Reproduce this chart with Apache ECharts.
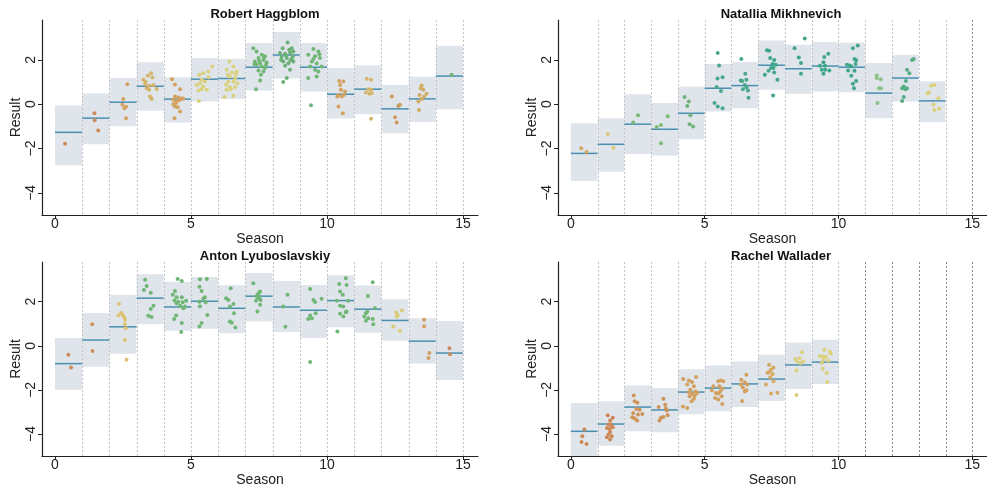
<!DOCTYPE html>
<html><head><meta charset="utf-8">
<script src="https://cdn.jsdelivr.net/npm/echarts@6/dist/echarts.min.js"></script>
<style>html,body{margin:0;padding:0;background:#fff}#c{width:987px;height:489px}</style>
</head><body><div id="c"></div>
<script>
// ---------------- DATA ----------------
const playerNames = ['Robert Haggblom', 'Natallia Mikhnevich', 'Anton Lyuboslavskiy', 'Rachel Wallader'];
const xTicks = [0, 5, 10, 15];
const yTicks = [-4, -2, 0, 2];
const seasonLines = [1, 2, 3, 4, 5, 6, 7, 8, 9, 10, 11, 12, 13, 14, 15];
const mikhnevichExtraLines = [15];
const walladerExtraLines = [11, 12, 13, 14, 15];

// Robert Haggblom (season index = array position)
const haggblomMean = [-1.27, -0.63, 0.09, 0.81, 0.23, 1.13, 1.16, 1.67, 2.22, 1.67, 0.45, 0.68, -0.21, 0.24, 1.27];
const haggblomLow  = [-2.75, -1.81, -1.0, -0.30, -0.83, 0.12, 0.23, 0.62, 1.16, 0.57, -0.65, -0.45, -1.31, -0.8, -0.23];
const haggblomHigh = [-0.06, 0.48, 1.18, 1.89, 1.22, 2.08, 2.05, 2.76, 3.26, 2.76, 1.63, 1.75, 0.87, 1.24, 2.64];
const haggblomResults = [
  [0.37,-1.78],
  [1.45,-0.41],[1.46,-0.72],[1.59,-1.19],
  [2.66,0.90],[2.51,0.23],[2.48,-0.03],[2.61,-0.11],[2.61,-0.63],[2.55,-0.18],
  [3.53,1.40],[3.41,1.28],[3.58,1.2],[3.25,1.1],[3.33,1.0],[3.47,0.83],[3.62,0.87],[3.74,0.69],[3.46,0.65],[3.49,0.35],[3.55,0.24],[3.31,0.9],[3.37,0.72],[3.52,0.3],
  [4.30,1.13],[4.41,0.89],[4.6,0.68],[4.41,0.35],[4.53,0.3],[4.66,0.27],[4.35,0.2],[4.47,0.12],[4.6,0.23],[4.35,0.0],[4.41,-0.1],[4.51,-0.14],[4.6,-0.33],[4.39,-0.63],[4.72,0.25],[4.45,0.05],[4.57,0.18],
  [5.78,1.7],[5.64,1.48],[5.45,1.4],[5.31,1.33],[5.39,1.1],[5.51,1.03],[5.33,0.95],[5.21,0.87],[5.45,0.8],[5.27,0.62],[5.58,0.65],[5.39,0.68],[5.64,1.22],[5.29,0.14],
  [6.41,1.93],[6.56,1.7],[6.31,1.55],[6.5,1.43],[6.68,1.48],[6.43,1.25],[6.62,1.18],[6.37,1.03],[6.56,1.03],[6.7,0.95],[6.29,0.88],[6.43,0.77],[6.62,0.77],[6.31,0.65],[6.46,0.68],[6.56,0.38],[6.23,0.32],[6.65,1.36],[6.35,1.33],
  [7.29,2.53],[7.41,2.38],[7.6,2.23],[7.72,2.16],[7.48,2.08],[7.66,2.0],[7.35,1.93],[7.54,1.85],[7.78,1.88],[7.41,1.78],[7.6,1.7],[7.72,1.63],[7.48,1.52],[7.66,1.48],[7.54,1.07],[7.39,0.68],[7.33,1.82],[7.76,1.78],[7.57,1.33],[7.51,1.95],[7.68,2.1],
  [8.55,2.79],[8.37,2.53],[8.7,2.53],[8.27,2.31],[8.46,2.28],[8.64,2.31],[8.76,2.38],[8.33,2.13],[8.52,2.08],[8.7,2.04],[8.39,1.93],[8.58,1.85],[8.76,1.93],[8.46,1.73],[8.64,1.55],[8.52,1.18],[8.39,1.0],[8.31,2.0],[8.74,2.16],[8.61,2.46],[8.49,2.2],[8.66,1.98],
  [9.5,2.49],[9.68,2.38],[9.31,2.23],[9.56,2.16],[9.74,2.08],[9.44,1.93],[9.62,1.85],[9.8,1.7],[9.38,1.7],[9.56,1.55],[9.68,1.48],[9.31,1.18],[9.62,1.25],[9.41,-0.05],[9.5,2.04],[9.72,2.26],
  [10.45,1.05],[10.6,1.02],[10.48,0.87],[10.51,0.65],[10.66,0.57],[10.42,0.42],[10.54,0.35],[10.62,0.42],[10.42,-0.1],[10.58,-0.41],[10.38,0.35],
  [11.46,1.15],[11.62,1.1],[11.52,0.68],[11.62,0.65],[11.43,0.53],[11.56,0.47],[11.64,0.5],[11.62,-0.66],
  [12.38,0.35],[12.68,-0.03],[12.62,-0.08],[12.5,-0.59],[12.56,-0.83],
  [13.48,0.84],[13.44,0.72],[13.54,0.65],[13.40,0.42],[13.48,0.24],[13.57,0.35],[13.66,0.47],[13.36,0.12],[13.38,-0.26],
  [14.58,1.33]
];

// Natallia Mikhnevich
const mikhnevichMean = [-2.22, -1.81, -0.9, -1.13, -0.41, 0.72, 0.84, 1.76, 1.6, 1.72, 1.67, 0.5, 1.18, 0.15];
const mikhnevichLow  = [-3.47, -3.05, -2.25, -2.32, -1.58, -0.33, -0.18, 0.65, 0.47, 0.57, 0.54, -0.63, 0.12, -0.81];
const mikhnevichHigh = [-0.86, -0.63, 0.45, 0.05, 0.8, 1.81, 1.9, 2.87, 2.68, 2.81, 2.78, 1.86, 2.23, 1.04];
const mikhnevichResults = [
  [0.39,-1.99],[0.59,-2.16],
  [1.38,-1.34],[1.59,-1.96],
  [2.51,-0.5],[2.33,-0.83],
  [3.62,-0.54],[3.37,-0.94],[3.21,-1.03],[3.37,-1.76],
  [4.25,0.32],[4.41,0.12],[4.35,-0.08],[4.47,-0.5],[4.44,-0.9],[4.57,-1.01],
  [5.49,2.31],[5.54,1.75],[5.48,1.16],[5.67,1.22],[5.61,0.6],[5.45,0.78],[5.37,0.05],[5.49,-0.1],[5.67,-0.18],
  [6.37,2.04],[6.52,1.37],[6.35,1.07],[6.4,1.05],[6.56,1.1],[6.43,0.68],[6.56,0.77],[6.62,0.62],[6.64,0.29],[6.5,0.87],
  [7.33,2.43],[7.41,2.41],[7.45,2.08],[7.6,2.0],[7.54,1.82],[7.66,1.78],[7.39,1.51],[7.57,1.63],[7.48,1.63],[7.6,1.43],[7.72,1.1],[7.25,1.33],[7.56,0.39],
  [8.74,2.96],[8.36,2.53],[8.52,2.11],[8.6,1.86],[8.6,1.37],
  [9.62,2.28],[9.47,2.13],[9.44,1.89],[9.31,1.73],[9.5,1.73],[9.38,1.55],[9.5,1.55],[9.66,1.52],[9.44,1.37],
  [10.72,2.65],[10.54,2.53],[10.6,2.04],[10.66,1.98],[10.32,1.78],[10.48,1.7],[10.64,1.82],[10.36,1.52],[10.6,1.51],[10.48,1.28],[10.66,1.05],[10.54,0.92],[10.58,0.72],[10.42,1.75],
  [11.43,1.3],[11.43,1.18],[11.58,1.13],[11.52,0.72],[11.59,0.72],[11.46,0.05],
  [12.75,2.0],[12.81,2.04],[12.56,1.55],[12.65,1.4],[12.52,1.05],[12.44,0.8],[12.56,0.72],[12.38,0.72],[12.5,0.68],[12.44,0.32],[12.38,0.15],
  [13.33,0.5],[13.38,0.53],[13.46,0.83],[13.58,0.87],[13.73,0.27],[13.55,-0.03],[13.58,-0.26],[13.76,-0.21]
];

// Anton Lyuboslavskiy
const lyuboslavskiyMean = [-0.81, 0.26, 0.86, 2.16, 1.76, 2.02, 1.7, 2.25, 1.76, 1.61, 2.05, 1.66, 1.15, 0.21, -0.33];
const lyuboslavskiyLow  = [-1.99, -0.95, -0.36, 0.98, 0.68, 0.77, 0.57, 1.1, 0.63, 0.35, 0.84, 0.59, 0.23, -0.8, -1.55];
const lyuboslavskiyHigh = [0.35, 1.49, 2.32, 3.24, 2.9, 3.12, 2.75, 3.3, 2.94, 2.76, 3.2, 2.73, 2.11, 1.25, 1.12];
const lyuboslavskiyResults = [
  [0.49,-0.41],[0.59,-0.98],
  [1.37,0.98],[1.38,-0.24],
  [2.35,1.9],[2.43,1.49],[2.33,1.37],[2.55,1.28],[2.57,1.18],[2.49,1.4],[2.57,0.98],[2.6,0.8],[2.57,0.26],[2.63,-0.63],
  [3.31,2.99],[3.27,2.53],[3.37,2.71],[3.52,2.41],[3.62,1.82],[3.52,1.67],[3.43,1.36],[3.55,1.31],
  [4.51,3.03],[4.66,2.94],[4.41,2.49],[4.33,2.31],[4.47,2.2],[4.66,2.2],[4.53,2.0],[4.69,1.97],[4.82,2.04],[4.39,2.05],[4.6,1.82],[4.78,1.78],[4.45,1.37],[4.38,1.22],[4.66,1.03],[4.64,0.62],[4.47,1.93],[4.72,1.7],
  [5.33,3.02],[5.58,3.03],[5.31,2.68],[5.39,2.49],[5.51,2.2],[5.45,2.13],[5.31,2.0],[5.54,1.97],[5.33,1.78],[5.6,1.4],[5.39,1.03],[5.31,0.87],
  [6.46,2.61],[6.29,2.16],[6.37,2.08],[6.56,1.9],[6.43,1.78],[6.58,1.48],[6.43,1.1],[6.5,1.05],[6.63,0.83],
  [7.29,2.84],[7.54,2.46],[7.48,2.38],[7.44,2.28],[7.51,2.2],[7.39,2.04],[7.56,2.08],[7.54,1.86],[7.44,1.55],[7.41,2.25],[7.48,2.16],
  [8.55,2.31],[8.39,1.78],[8.47,0.86],
  [9.38,2.58],[9.5,2.08],[9.56,1.98],[9.8,2.13],[9.58,1.48],[9.38,1.37],[9.31,1.22],[9.44,1.25],[9.38,-0.74],
  [10.69,3.06],[10.45,2.8],[10.72,2.76],[10.48,2.46],[10.58,2.31],[10.78,2.04],[10.36,2.04],[10.48,1.81],[10.6,1.78],[10.69,1.52],[10.48,1.45],[10.6,1.33],[10.72,1.55],[10.38,0.65],
  [11.68,2.88],[11.5,2.26],[11.76,1.7],[11.48,1.55],[11.43,1.48],[11.37,1.33],[11.52,1.25],[11.68,1.22],[11.7,0.98],[11.43,1.13],
  [12.54,1.51],[12.6,1.4],[12.56,1.33],[12.75,1.6],[12.44,0.87],[12.68,0.68],
  [13.57,1.18],[13.57,0.89],[13.76,-0.33],[13.73,-0.56],
  [14.5,-0.11],[14.52,-0.38]
];

// Rachel Wallader
const walladerMean = [-3.88, -3.55, -2.78, -2.91, -2.1, -1.92, -1.73, -1.51, -0.87, -0.74];
const walladerLow  = [-5.3, -4.54, -3.88, -3.92, -3.11, -2.97, -2.78, -2.5, -1.96, -1.73];
const walladerHigh = [-2.6, -2.52, -1.8, -1.92, -1.06, -0.9, -0.71, -0.41, 0.15, 0.27];
const walladerResults = [
  [0.51,-3.8],[0.43,-4.1],[0.4,-4.36],[0.59,-4.45],
  [1.38,-3.15],[1.57,-3.27],[1.47,-3.39],[1.41,-3.57],[1.53,-3.65],[1.35,-3.73],[1.45,-3.77],[1.57,-3.7],[1.47,-3.91],[1.41,-4.03],[1.53,-4.1],[1.47,-4.25],[1.35,-4.15],[1.5,-3.57],
  [2.35,-2.26],[2.49,-2.59],[2.39,-2.52],[2.45,-2.87],[2.57,-2.9],[2.33,-3.05],[2.51,-3.12],[2.67,-3.09],[2.3,-3.24],[2.39,-3.3],[2.48,-3.39],
  [3.46,-2.4],[3.28,-2.78],[3.53,-2.67],[3.55,-2.85],[3.59,-2.94],[3.62,-3.15],[3.37,-3.27],[3.46,-3.23],[3.31,-3.39],
  [4.2,-1.51],[4.41,-1.58],[4.68,-1.42],[4.53,-1.64],[4.35,-1.76],[4.6,-1.84],[4.47,-1.99],[4.66,-2.07],[4.53,-2.19],[4.44,-2.29],[4.6,-2.4],[4.51,-2.52],[4.19,-2.75],[4.35,-2.82],[4.63,-2.25],[4.72,-2.14],[4.41,-2.11],
  [5.61,-1.58],[5.51,-1.61],[5.7,-1.61],[5.33,-1.84],[5.55,-1.84],[5.66,-1.95],[5.42,-2.14],[5.51,-2.17],[5.64,-2.29],[5.39,-2.37],[5.51,-2.44],[5.66,-2.64],[5.27,-2.02],[5.58,-2.07],
  [6.56,-1.31],[6.37,-1.54],[6.5,-1.66],[6.59,-1.76],[6.43,-1.89],[6.56,-2.02],[6.5,-2.07],[6.35,-1.76],[6.4,-2.5],
  [7.41,-0.86],[7.57,-0.98],[7.48,-1.09],[7.35,-1.22],[7.54,-1.28],[7.45,-1.43],[7.57,-1.61],[7.29,-1.76],[7.48,-2.17],[7.72,-2.13],[7.41,-1.19],
  [8.64,-0.29],[8.55,-0.56],[8.39,-0.6],[8.68,-0.71],[8.46,-0.71],[8.58,-0.78],[8.43,-1.12],[8.43,-2.23],
  [9.47,-0.18],[9.68,-0.26],[9.71,-0.35],[9.31,-0.48],[9.44,-0.48],[9.53,-0.51],[9.62,-0.68],[9.38,-0.78],[9.41,-1.04],[9.56,-1.24],[9.58,-1.64],[9.44,-0.63]
];

// ---------------- STYLE ----------------
const OR = '#cf8a5c', TAN = '#d3a260', GOLD = '#d6b56a', YEL = '#dbd07e', GRN = '#70b675', TEAL = '#41a68c', LGRN = '#8cc186';
const pointColors = [
  [OR, OR, TAN, GOLD, TAN, YEL, YEL, GRN, '#6bb077', GRN, TAN, GOLD, '#cd9a5e', '#d4ab63', GRN],
  ['#d2a862', '#dcc878', '#7cba78', '#7cba78', '#6fb37a', '#4aa88a', '#4aa88a', TEAL, TEAL, TEAL, TEAL, LGRN, '#56ad84', YEL],
  [OR, '#d0925d', '#dcc474', GRN, GRN, GRN, GRN, GRN, GRN, GRN, GRN, GRN, '#dccb78', '#d4a062', OR],
  ['#cd8856', '#cd8856', '#cf9458', '#cf9458', '#d4a05e', '#d4a05e', '#d4a05e', '#d6a862', YEL, YEL]
];
const FONT = '"Liberation Sans", Arial, sans-serif';
const BOX = '#dfe5eb', MEANC = '#4a8fb0', VL = '#c4c4c4', VLD = '#8a8a8a';
const grids = [
  { left: 42, top: 20, width: 436, height: 195 },
  { left: 558, top: 20, width: 436, height: 195 },
  { left: 42, top: 262, width: 436, height: 194 },
  { left: 558, top: 262, width: 436, height: 194 }
];

const panels = [
  { mean: haggblomMean, low: haggblomLow, high: haggblomHigh, pts: haggblomResults, extra: [] },
  { mean: mikhnevichMean, low: mikhnevichLow, high: mikhnevichHigh, pts: mikhnevichResults, extra: mikhnevichExtraLines },
  { mean: lyuboslavskiyMean, low: lyuboslavskiyLow, high: lyuboslavskiyHigh, pts: lyuboslavskiyResults, extra: [] },
  { mean: walladerMean, low: walladerLow, high: walladerHigh, pts: walladerResults, extra: walladerExtraLines }
];

function csRect(params) {
  const c = params.coordSys;
  return { x: c.x, y: c.y, width: c.width, height: c.height };
}

const series = [], xAxes = [], yAxes = [], titles = [];
panels.forEach((p, i) => {
  const g = grids[i];
  titles.push({
    text: playerNames[i], left: g.left + g.width / 2, top: g.top - 17, textAlign: 'center',
    textStyle: { fontFamily: FONT, fontSize: 13, fontWeight: 'bold', color: '#111' }
  });
  xAxes.push({
    gridIndex: i, type: 'value', min: -0.478, max: 15.55,
    name: 'Season', nameLocation: 'middle', nameGap: 15,
    nameTextStyle: { fontFamily: FONT, fontSize: 14, color: '#222' },
    axisLine: { onZero: false, lineStyle: { color: '#222', width: 1.2 } },
    axisTick: { show: true, length: 4, customValues: xTicks, lineStyle: { color: '#222' } },
    axisLabel: { customValues: xTicks, margin: 2, fontFamily: FONT, fontSize: 14, color: '#222' },
    splitLine: { show: false }
  });
  yAxes.push({
    gridIndex: i, type: 'value', min: -5, max: 3.8,
    name: 'Result', nameLocation: 'middle', nameGap: 15,
    nameTextStyle: { fontFamily: FONT, fontSize: 14, color: '#222' },
    axisLine: { show: true, onZero: false, lineStyle: { color: '#222', width: 1.2 } },
    axisTick: { show: true, length: 4, customValues: yTicks, lineStyle: { color: '#222' } },
    axisLabel: { customValues: yTicks, rotate: 90, margin: 4, fontFamily: FONT, fontSize: 14, color: '#222',
      formatter: v => String(v).replace('-', '\u2212') },
    splitLine: { show: false }
  });
  const boxData = p.mean.map((m, s) => [s, p.low[s], p.high[s], m]);
  series.push({
    type: 'custom', xAxisIndex: i, yAxisIndex: i, silent: true, z: 1,
    data: boxData,
    renderItem: (params, api) => {
      const s = api.value(0);
      const a = api.coord([s, api.value(2)]), b = api.coord([s + 1, api.value(1)]);
      const r = echarts.graphic.clipRectByRect({ x: a[0], y: a[1], width: b[0] - a[0], height: b[1] - a[1] }, csRect(params));
      return r ? { type: 'rect', shape: r, style: { fill: BOX } } : null;
    }
  });
  const vData = seasonLines.map(v => [v, p.extra.indexOf(v) >= 0 ? 1 : 0]);
  series.push({
    type: 'custom', xAxisIndex: i, yAxisIndex: i, silent: true, z: 2,
    data: vData,
    renderItem: (params, api) => {
      const x = Math.round(api.coord([api.value(0), 0])[0]) + 0.5;
      const c = params.coordSys;
      return { type: 'line', shape: { x1: x, y1: c.y, x2: x, y2: c.y + c.height },
        style: { stroke: api.value(1) ? VLD : VL, lineWidth: 1, lineDash: [2, 2] } };
    }
  });
  series.push({
    type: 'custom', xAxisIndex: i, yAxisIndex: i, silent: true, z: 3,
    data: boxData,
    renderItem: (params, api) => {
      const s = api.value(0);
      const a = api.coord([s, api.value(3)]), b = api.coord([s + 1, api.value(3)]);
      return { type: 'line', shape: { x1: a[0], y1: a[1], x2: b[0], y2: b[1] }, style: { stroke: MEANC, lineWidth: 1.5 } };
    }
  });
  series.push({
    type: 'scatter', xAxisIndex: i, yAxisIndex: i, silent: true, z: 4,
    symbolSize: 4, data: p.pts,
    itemStyle: { opacity: 1, color: prm => pointColors[i][Math.floor(prm.value[0])] }
  });
});

const chart = echarts.init(document.getElementById('c'), null, { renderer: 'canvas' });
chart.setOption({
  animation: false, backgroundColor: '#fff',
  title: titles, grid: grids, xAxis: xAxes, yAxis: yAxes, series: series
});
</script>
</body></html>
